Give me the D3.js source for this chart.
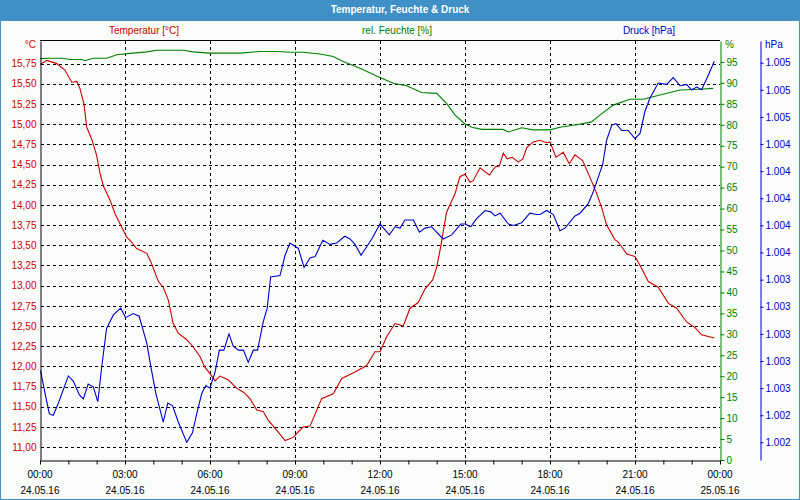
<!DOCTYPE html>
<html>
<head>
<meta charset="utf-8">
<script src="https://cdn.jsdelivr.net/npm/d3@7"></script>
<style>
  body { margin: 0; background: #fff; }
  svg text { font-family: "Liberation Sans", Arial, sans-serif; }
</style>
</head>
<body>
<script>
/* global d3 */

// chart title and the three series labels
const chartTitle = 'Temperatur, Feuchte & Druck';
const seriesLabels = ['Temperatur [°C]', 'rel. Feuchte [%]', 'Druck [hPa]'];
const unitLabels = ['°C', '%', 'hPa'];
const dayLabels = ['24.05.16', '25.05.16'];

// tick values of the three y axes
const tempTicks = [11, 11.25, 11.5, 11.75, 12, 12.25, 12.5, 12.75, 13, 13.25, 13.5,
  13.75, 14, 14.25, 14.5, 14.75, 15, 15.25, 15.5, 15.75];
const humTicks = [0, 5, 10, 15, 20, 25, 30, 35, 40, 45, 50, 55, 60, 65, 70, 75, 80, 85, 90, 95];
const pressTicks = [1002.2, 1002.4, 1002.6, 1002.8, 1003.0, 1003.2, 1003.4, 1003.6,
  1003.8, 1004.0, 1004.2, 1004.4, 1004.6, 1004.8, 1005.0];

// temperature: hours after 24.05.16 00:00 and value in °C
const tempHours = [0, 0.24, 0.59, 0.88, 1.12, 1.3, 1.41, 1.55, 1.65, 1.82, 2.0, 2.12, 2.23,
  2.47, 2.65, 2.82, 3.06, 3.18, 3.41, 3.77, 3.94, 4.18, 4.35, 4.53, 4.7, 4.88, 5.18, 5.41,
  5.65, 5.82, 6.0, 6.18, 6.35, 6.65, 6.94, 7.18, 7.41, 7.65, 7.88, 8.06, 8.35, 8.65, 8.94,
  9.12, 9.29, 9.53, 9.94, 10.35, 10.65, 11.12, 11.53, 11.82, 12.0, 12.24, 12.53, 12.82,
  13.06, 13.35, 13.59, 13.86, 14.0, 14.12, 14.18, 14.35, 14.65, 14.82, 15.0, 15.18, 15.29,
  15.53, 15.86, 16.06, 16.21, 16.35, 16.49, 16.67, 16.88, 17.04, 17.18, 17.41, 17.65, 17.88,
  18.0, 18.21, 18.47, 18.68, 18.88, 19.15, 19.35, 19.65, 19.82, 20.0, 20.29, 20.41, 20.71,
  21.0, 21.24, 21.47, 21.82, 22.18, 22.47, 22.82, 23.12, 23.35, 23.59, 23.8];
const tempValues = [15.74, 15.79, 15.75, 15.67, 15.52, 15.53, 15.44, 15.25, 14.96, 14.82,
  14.61, 14.39, 14.24, 14.06, 13.89, 13.77, 13.6, 13.56, 13.46, 13.4, 13.27, 13.05, 12.98,
  12.82, 12.53, 12.41, 12.33, 12.24, 12.12, 11.99, 11.91, 11.82, 11.88, 11.83, 11.73, 11.68,
  11.6, 11.46, 11.44, 11.33, 11.21, 11.08, 11.12, 11.19, 11.25, 11.26, 11.6, 11.66, 11.85,
  11.93, 12.01, 12.18, 12.18, 12.37, 12.53, 12.5, 12.72, 12.79, 12.96, 13.07, 13.23, 13.44,
  13.56, 13.91, 14.14, 14.35, 14.38, 14.28, 14.3, 14.46, 14.37, 14.47, 14.48, 14.64, 14.57,
  14.59, 14.53, 14.57, 14.71, 14.78, 14.8, 14.77, 14.78, 14.59, 14.65, 14.51, 14.62, 14.55,
  14.39, 14.14, 13.97, 13.75, 13.57, 13.54, 13.39, 13.36, 13.21, 13.05, 12.98, 12.78, 12.72,
  12.55, 12.48, 12.39, 12.37, 12.35];

// relative humidity in %
const humHours = [0, 0.35, 0.78, 1.06, 1.48, 1.59, 1.87, 2.36, 2.71, 3.28, 3.77, 4.12, 5.05,
  5.4, 6.0, 7.06, 7.76, 8.35, 8.82, 9.28, 9.88, 10.35, 10.7, 11.29, 12.0, 12.47, 12.94,
  13.47, 14.0, 14.35, 14.65, 15.0, 15.24, 15.59, 16.34, 16.53, 17.0, 17.4, 18.0, 18.35,
  18.94, 19.47, 19.76, 20.23, 20.82, 21.29, 21.88, 22.59, 23.29, 23.76];
const humValues = [95.8, 95.9, 95.9, 95.6, 95.6, 95.3, 95.9, 95.9, 96.7, 97.1, 97.4, 97.8,
  97.8, 97.4, 97.1, 97.1, 97.5, 97.5, 97.3, 97.3, 96.9, 96.3, 95.1, 93.5, 91.3, 89.9, 89.3,
  87.7, 87.5, 85.1, 82.3, 80.2, 79.4, 78.9, 78.9, 78.3, 79.3, 78.8, 78.8, 79.4, 80.0, 80.7,
  82.3, 84.7, 86.1, 86.1, 87.1, 88.3, 88.5, 88.7];

// air pressure in hPa
const pressHours = [0.02, 0.18, 0.33, 0.47, 0.65, 1.0, 1.18, 1.39, 1.53, 1.7, 1.88, 2.04,
  2.18, 2.35, 2.59, 2.85, 3.02, 3.29, 3.5, 3.77, 3.91, 4.09, 4.35, 4.51, 4.68, 4.88, 5.18,
  5.38, 5.53, 5.71, 5.85, 6.0, 6.18, 6.33, 6.49, 6.67, 6.82, 7.0, 7.18, 7.35, 7.53, 7.68,
  7.88, 8.02, 8.14, 8.47, 8.65, 8.82, 9.12, 9.32, 9.53, 9.71, 9.98, 10.24, 10.47, 10.76,
  10.94, 11.12, 11.33, 11.71, 12.0, 12.33, 12.53, 12.71, 12.88, 13.18, 13.39, 13.59, 13.82,
  14.23, 14.53, 14.85, 15.0, 15.2, 15.41, 15.71, 15.91, 16.06, 16.24, 16.53, 16.71, 17.0,
  17.29, 17.53, 17.65, 17.88, 18.12, 18.35, 18.53, 18.88, 19.06, 19.35, 19.53, 19.71, 19.86,
  20.0, 20.18, 20.33, 20.53, 20.76, 21.0, 21.18, 21.35, 21.53, 21.82, 22.12, 22.35, 22.59,
  22.82, 23.0, 23.18, 23.35, 23.59, 23.8];
const pressValues = [1002.73, 1002.56, 1002.41, 1002.4, 1002.49, 1002.69, 1002.65, 1002.55,
  1002.52, 1002.63, 1002.61, 1002.5, 1002.76, 1003.04, 1003.14, 1003.19, 1003.12, 1003.15,
  1003.13, 1002.93, 1002.76, 1002.56, 1002.35, 1002.49, 1002.47, 1002.35, 1002.2, 1002.27,
  1002.41, 1002.56, 1002.62, 1002.6, 1002.72, 1002.88, 1002.88, 1003.0, 1002.91, 1002.88,
  1002.88, 1002.79, 1002.88, 1002.88, 1003.09, 1003.19, 1003.42, 1003.43, 1003.58, 1003.67,
  1003.63, 1003.49, 1003.56, 1003.57, 1003.69, 1003.66, 1003.67, 1003.72, 1003.7, 1003.66,
  1003.58, 1003.7, 1003.81, 1003.73, 1003.79, 1003.78, 1003.84, 1003.84, 1003.75, 1003.78,
  1003.79, 1003.7, 1003.73, 1003.81, 1003.81, 1003.79, 1003.85, 1003.91, 1003.9, 1003.87,
  1003.89, 1003.81, 1003.8, 1003.82, 1003.89, 1003.88, 1003.88, 1003.91, 1003.88, 1003.76,
  1003.78, 1003.87, 1003.89, 1003.96, 1004.05, 1004.16, 1004.25, 1004.43, 1004.54, 1004.55,
  1004.5, 1004.5, 1004.44, 1004.48, 1004.64, 1004.74, 1004.85, 1004.84, 1004.89, 1004.83,
  1004.84, 1004.8, 1004.82, 1004.8, 1004.91, 1005.01];

const colors = {temp: '#cc0000', hum: '#008000', press: '#0000cc'};

// german number formats (decimal comma, thousands dot)
const de = d3.formatLocale({decimal: ',', thousands: '.', grouping: [3], currency: ['', ' €']});

const startDate = new Date(2016, 4, 24, 0, 0);
const atHour = h => new Date(startDate.getTime() + h * 3600 * 1000);

document.addEventListener('DOMContentLoaded', () => {
  const W = 800;
  const H = 500;
  const plot = {left: 40, right: 720, top: 41, bottom: 460};

  const svg = d3.select('body').append('svg')
    .attr('width', W)
    .attr('height', H);

  // page background, frame and title bar
  svg.append('rect')
    .attr('x', 0.5).attr('y', 0.5)
    .attr('width', W - 1).attr('height', H - 1)
    .attr('fill', '#fafcfa')
    .attr('stroke', '#3f90c6');
  svg.append('rect')
    .attr('x', 0).attr('y', 0)
    .attr('width', W).attr('height', 21)
    .attr('fill', '#3f90c6');
  svg.append('text')
    .attr('x', W / 2).attr('y', 13)
    .attr('text-anchor', 'middle')
    .attr('fill', '#fff')
    .attr('font-weight', 'bold')
    .attr('font-size', '10px')
    .text(chartTitle);

  // scales
  const x = d3.scaleTime()
    .domain([startDate, atHour(24)])
    .range([plot.left, plot.right]);
  const yTemp = d3.scaleLinear().domain([10.84, 16.03]).range([plot.bottom, plot.top]);
  const yHum = d3.scaleLinear().domain([0, 100]).range([plot.bottom, plot.top]);
  const yPress = d3.scaleLinear().domain([1002.07, 1005.16]).range([plot.bottom, plot.top]);

  // series labels above the plot
  const labelX = [144, 397, 649];
  const labelColors = [colors.temp, colors.hum, colors.press];
  svg.selectAll('.series-label')
    .data(seriesLabels)
    .enter().append('text')
      .attr('class', 'series-label')
      .attr('x', (d, i) => labelX[i])
      .attr('y', 34)
      .attr('text-anchor', 'middle')
      .attr('font-size', '10px')
      .attr('fill', (d, i) => labelColors[i])
      .text(d => d);

  // dashed grid
  const grid = svg.append('g')
    .attr('stroke', '#000')
    .attr('stroke-dasharray', '3,3')
    .attr('shape-rendering', 'crispEdges');
  grid.selectAll('.hgrid')
    .data(tempTicks)
    .enter().append('line')
      .attr('class', 'hgrid')
      .attr('x1', plot.left + 1).attr('x2', plot.right)
      .attr('y1', d => Math.round(yTemp(d)) + 0.5)
      .attr('y2', d => Math.round(yTemp(d)) + 0.5);
  const majorHours = d3.timeHour.every(3).range(atHour(3), atHour(24));
  grid.selectAll('.vgrid')
    .data(majorHours)
    .enter().append('line')
      .attr('class', 'vgrid')
      .attr('x1', d => Math.round(x(d)) + 0.5).attr('x2', d => Math.round(x(d)) + 0.5)
      .attr('y1', plot.top).attr('y2', plot.bottom);

  // top frame line
  svg.append('line')
    .attr('x1', plot.left).attr('x2', plot.right)
    .attr('y1', plot.top - 0.5).attr('y2', plot.top - 0.5)
    .attr('stroke', '#000');

  // the three curves
  const drawSeries = (hours, values, yScale, color) => {
    svg.append('path')
      .datum(hours.map((h, i) => ({t: atHour(h), v: values[i]})))
      .attr('fill', 'none')
      .attr('stroke', color)
      .attr('stroke-width', 1.1)
      .attr('d', d3.line().x(d => x(d.t)).y(d => yScale(d.v)));
  };
  drawSeries(humHours, humValues, yHum, colors.hum);
  drawSeries(tempHours, tempValues, yTemp, colors.temp);
  drawSeries(pressHours, pressValues, yPress, colors.press);

  // left axis (temperature)
  const leftAxis = svg.append('g')
    .attr('transform', `translate(${plot.left + 0.5},0)`)
    .call(d3.axisLeft(yTemp).tickValues(tempTicks).tickSize(0).tickSizeOuter(0)
      .tickPadding(4).tickFormat(de.format(',.2f')));
  leftAxis.select('.domain').attr('stroke', '#000');
  leftAxis.selectAll('text').attr('fill', colors.temp).attr('font-size', '10px')
    .attr('font-family', '"Liberation Sans", Arial, sans-serif');

  // right axis (humidity)
  const humAxis = svg.append('g')
    .attr('transform', `translate(${plot.right + 0.5},0)`)
    .call(d3.axisRight(yHum).tickValues(humTicks).tickSize(4).tickSizeOuter(0).tickPadding(2));
  humAxis.select('.domain').attr('stroke', colors.hum);
  humAxis.selectAll('.tick line').attr('stroke', colors.hum);
  humAxis.selectAll('text').attr('fill', colors.hum).attr('font-size', '10px')
    .attr('font-family', '"Liberation Sans", Arial, sans-serif');

  // far right axis (pressure)
  const pressAxis = svg.append('g')
    .attr('transform', `translate(${760.5},0)`)
    .call(d3.axisRight(yPress).tickValues(pressTicks).tickSize(3).tickSizeOuter(0)
      .tickPadding(2).tickFormat(de.format(',.0f')));
  pressAxis.select('.domain').attr('stroke', colors.press);
  pressAxis.selectAll('.tick line').attr('stroke', colors.press);
  pressAxis.selectAll('text').attr('fill', colors.press).attr('font-size', '10px')
    .attr('font-family', '"Liberation Sans", Arial, sans-serif');

  // unit labels on top of the axes
  const unitX = [36, 725, 765];
  const unitAnchor = ['end', 'start', 'start'];
  svg.selectAll('.unit')
    .data(unitLabels)
    .enter().append('text')
      .attr('class', 'unit')
      .attr('x', (d, i) => unitX[i])
      .attr('y', 48)
      .attr('text-anchor', (d, i) => unitAnchor[i])
      .attr('font-size', '10px')
      .attr('fill', (d, i) => labelColors[i])
      .text(d => d);

  // bottom time axis, hourly ticks, labels every 3 hours
  const bottomAxis = svg.append('g')
    .attr('transform', `translate(0,${plot.bottom + 0.5})`)
    .call(d3.axisBottom(x).ticks(d3.timeHour.every(1)).tickSize(4).tickSizeOuter(0)
      .tickFormat(''));
  bottomAxis.selectAll('path, line').attr('stroke', '#000');

  const labelHours = d3.timeHour.every(3).range(startDate, atHour(24.01));
  const timeLabels = svg.selectAll('.time-label')
    .data(labelHours)
    .enter().append('text')
      .attr('class', 'time-label')
      .attr('text-anchor', 'middle')
      .attr('font-size', '10px')
      .attr('fill', '#000');
  timeLabels.append('tspan')
    .attr('x', d => x(d)).attr('y', 478)
    .text(d3.timeFormat('%H:%M'));
  timeLabels.append('tspan')
    .attr('x', d => x(d)).attr('y', 494)
    .text(d => d.getDate() === 24 ? dayLabels[0] : dayLabels[1]);
}, false);
</script>
</body>
</html>
